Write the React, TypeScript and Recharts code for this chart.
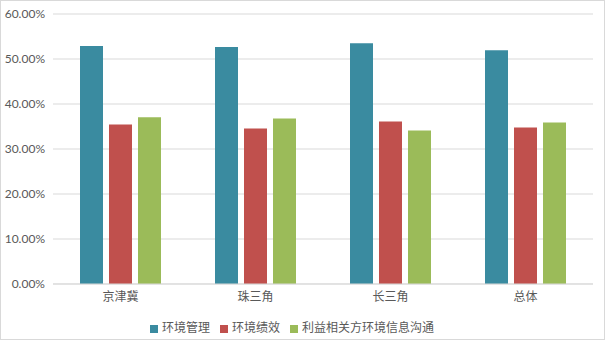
import React from 'react';
import { BarChart, Bar, XAxis, YAxis, CartesianGrid, Legend } from 'recharts';

const regions = ['京津冀', '珠三角', '长三角', '总体'];
const envManagement = [52.87, 52.64, 53.5, 51.97];
const envPerformance = [35.47, 34.58, 36.1, 34.8];
const stakeholderComm = [37.03, 36.8, 34.1, 35.9];
const yTicks = [0, 10, 20, 30, 40, 50, 60];

const data = regions.map((name, i) => ({
  name,
  a: envManagement[i],
  b: envPerformance[i],
  c: stakeholderComm[i],
}));

const font = 'Lato, "Noto Sans CJK SC", sans-serif';

export default function App() {
  return (
    <div
      style={{
        position: 'absolute',
        left: 0,
        top: 0,
        width: 605,
        height: 340,
        boxSizing: 'border-box',
        border: '1px solid #d9d9d9',
        background: '#fff',
        fontFamily: font,
      }}
    >
      <BarChart
        width={603}
        height={338}
        data={data}
        margin={{ top: 13, right: 11, bottom: 0, left: 0 }}
        barCategoryGap="19%"
        barGap={6}
      >
        <CartesianGrid vertical={false} stroke="#d9d9d9" />
        <XAxis
          dataKey="name"
          height={34}
          tickLine={false}
          axisLine={{ stroke: '#d9d9d9' }}
          tick={{ fill: '#595959', fontSize: 12, fontFamily: font }}
        />
        <YAxis
          width={52}
          domain={[0, 60]}
          ticks={yTicks}
          tickFormatter={(v: number) => v.toFixed(2) + '%'}
          axisLine={false}
          tickLine={false}
          tick={{ fill: '#595959', fontSize: 12, fontFamily: font }}
        />
        <Legend
          verticalAlign="bottom"
          iconType="square"
          iconSize={8}
          height={21}
          itemSorter="dataKey"
          wrapperStyle={{ fontSize: 12, color: '#595959' }}
          formatter={(value: string) => <span style={{ color: '#595959' }}>{value}</span>}
        />
        <Bar dataKey="a" name="环境管理" fill="#3a8ba0" barSize={23} isAnimationActive={false} />
        <Bar dataKey="b" name="环境绩效" fill="#c0504d" barSize={23} isAnimationActive={false} />
        <Bar dataKey="c" name="利益相关方环境信息沟通" fill="#9bbb59" barSize={23} isAnimationActive={false} />
      </BarChart>
    </div>
  );
}
